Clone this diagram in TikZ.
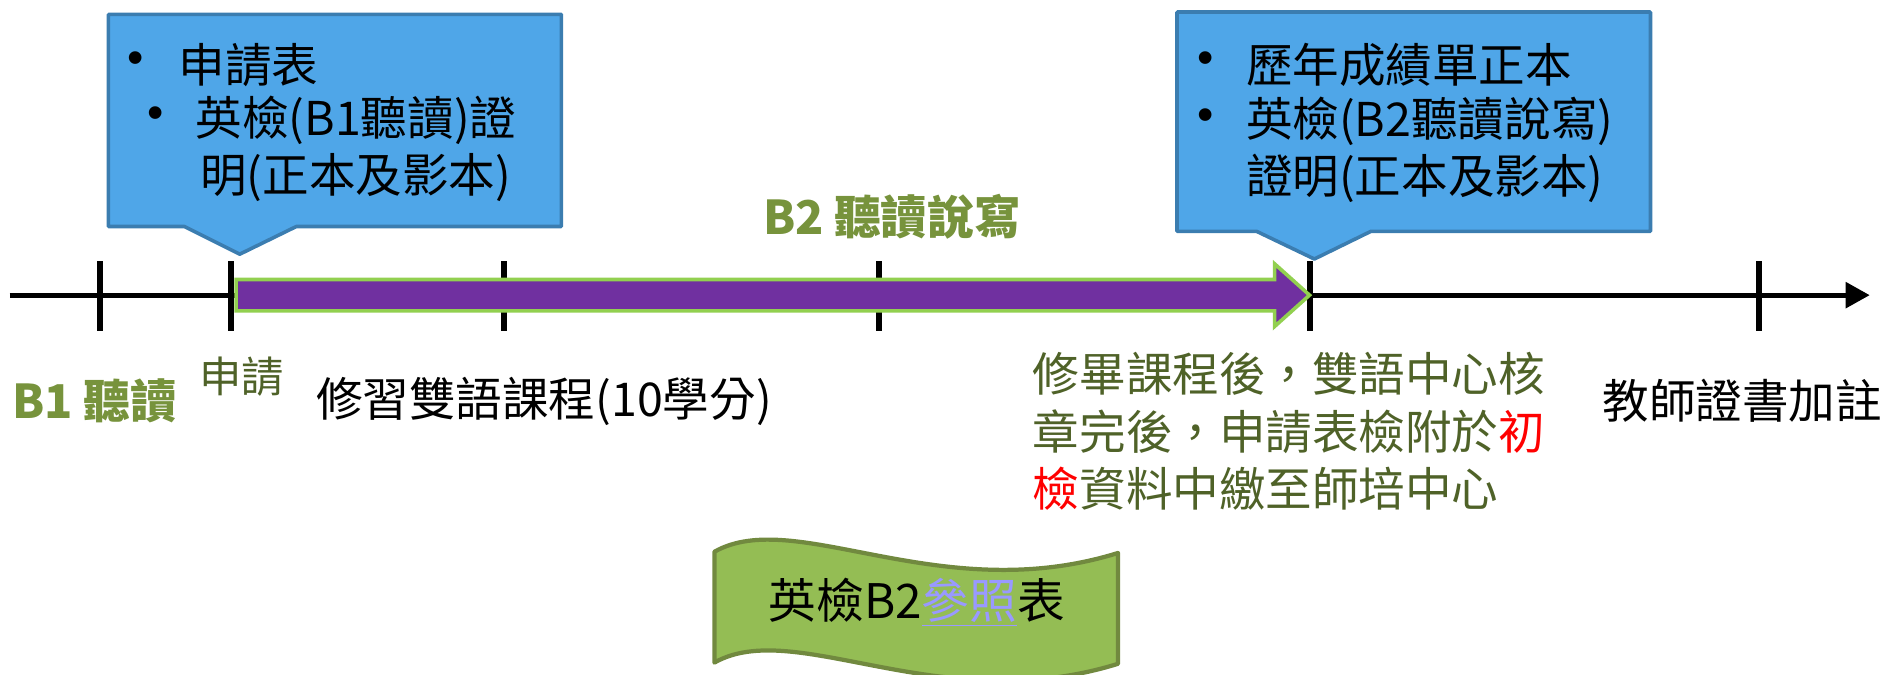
\documentclass[tikz,border=0pt]{standalone}
\usepackage{fontspec}
\setmainfont{Noto Sans CJK TC}
\newfontfamily\dotfont{Liberation Sans}
\usetikzlibrary{arrows.meta}
\definecolor{boxfill}{RGB}{79,166,232}
\definecolor{boxline}{RGB}{59,125,176}
\definecolor{barpurple}{RGB}{112,48,160}
\definecolor{barrim}{RGB}{146,208,80}
\definecolor{lvlgreen}{RGB}{119,147,60}
\definecolor{notegreen}{RGB}{79,98,40}
\definecolor{flagfill}{RGB}{148,189,84}
\definecolor{flagline}{RGB}{113,137,63}
\definecolor{linkblue}{RGB}{153,153,255}

\begin{document}
\begin{tikzpicture}[x=0.02cm, y=-0.02cm,
    tickmark/.style={line width=2.8pt},
    notebox/.style={fill=boxfill, draw=boxline, line width=1.7pt, line join=round},
    boxtext/.style={anchor=west, inner sep=0pt, font=\fontsize{22}{26}\selectfont},
    dot/.style={inner sep=0pt, font=\dotfont\fontsize{22}{26}\selectfont},
    kai/.style={anchor=west, inner sep=0pt, font=\fontsize{22}{27.3}\selectfont},
    lvl/.style={anchor=west, inner sep=0pt, text=lvlgreen, font=\bfseries\fontsize{22}{26}\selectfont}]
		%%%%% START %%%%%
		\useasboundingbox (0,0) rectangle (1568,560);
		
		% time line
		\coordinate (start) at (8,245);
		\coordinate (end) at (1552,245);
		\draw[line width=2.3pt, -{Triangle[length=0.4cm,width=0.42cm]}] (start) -- (end);
		\foreach \x/\n in {83/a,192/b,418/c,730/d,1087/e,1460/f} {
			\draw[tickmark] (\x,217) -- (\x,275);
		}
		
		% B2 bar
		\draw[fill=barpurple, draw=barrim, line width=1.7pt, line join=miter]
			(196,232) -- (1058,232) -- (1058,219) -- (1087,245) -- (1058,271) -- (1058,258) -- (196,258) -- cycle;
		
		% left note
		\draw[notebox] (90,12) -- (466,12) -- (466,188) -- (246,188) -- (199,211) -- (153,188) -- (90,188) -- cycle;
		\node[dot] (ldot1) at (113,52) {\textbullet};
		\node[boxtext] (lform) at (148,54) {申請表};
		\node[dot] (ldot2) at (129,98) {\textbullet};
		\node[boxtext] (lcert) at (162,100) {英檢(B1聽讀)證};
		\node[boxtext] (lcopy) at (166,147) {明(正本及影本)};
		
		% right note
		\draw[notebox] (977,10) -- (1370,10) -- (1370,192) -- (1138,192) -- (1091,215) -- (1043,192) -- (977,192) -- cycle;
		\node[dot] (rdot1) at (1001,52) {\textbullet};
		\node[boxtext] (rgrades) at (1034,54) {歷年成績單正本};
		\node[dot] (rdot2) at (1001,99) {\textbullet};
		\node[boxtext] (rcert) at (1034,101) {英檢(B2聽讀說寫)};
		\node[boxtext] (rcopy) at (1034,148) {證明(正本及影本)};
		
		% labels
		\node[lvl] (btwo) at (633,180) {B2 聽讀說寫};
		\node[lvl] (bone) at (10,333) {B1 聽讀};
		\node[kai, text=notegreen, font=\fontsize{20}{24}\selectfont] (apply) at (165,313) {申請};
		\node[kai] (course) at (262,333) {修習雙語課程(10學分)};
		\node[kai, text=notegreen, align=left] (finish) at (857,358)
			{修畢課程後，雙語中心核\\章完後，申請表檢附於{\color{red}初}\\{\color{red}檢}資料中繳至師培中心};
		\node[kai] (endorse) at (1330,333) {教師證書加註};
		
		% wave
		\draw[fill=flagfill, draw=flagline, line width=2pt, line join=round]
			(593,458) .. controls (660,420) and (780,505) .. (928,459) -- (928,551)
			.. controls (780,597) and (660,512) .. (593,550) -- cycle;
		\node[inner sep=0pt, font=\fontsize{22.5}{26}\selectfont] (table) at (761,500)
			{英檢B2{\color{linkblue}\underline{參照}}表};
		%%%%% END %%%%%
\end{tikzpicture}
\end{document}
